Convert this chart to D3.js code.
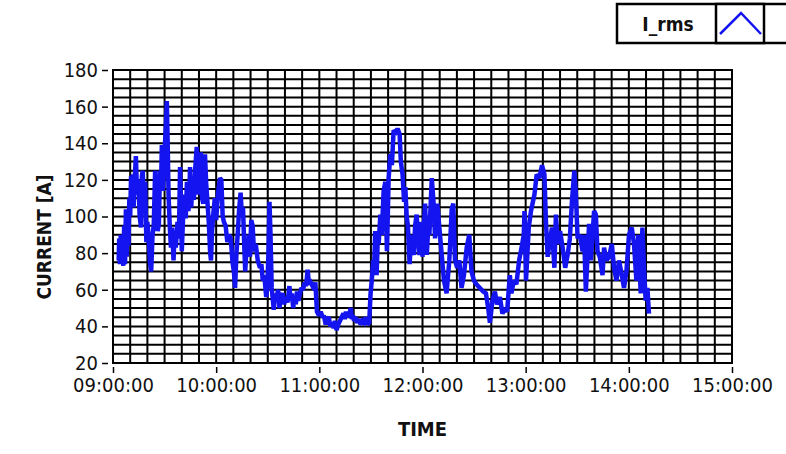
<!DOCTYPE html>
<html>
<head>
<meta charset="utf-8">
<script src="https://cdn.jsdelivr.net/npm/d3@7"></script>
<style>
body { margin: 0; background: #fff; }
text { font-family: "DejaVu Sans Condensed", "DejaVu Sans", sans-serif; fill: #111; }
</style>
</head>
<body>
<svg id="chart" width="786" height="454"></svg>
<script>
// minutes after 09:00:00 and the rms current read at that moment
var minutes = [3.3,3.6,4.0,4.5,5.0,5.5,6.0,6.5,7.0,7.5,8.0,8.5,9.0,9.5,10.0,10.5,11.0,11.5,12.0,12.5,
	13.3,14.0,14.8,15.5,16.3,16.8,17.3,18.0,18.7,19.4,20.0,20.7,21.5,22.2,23.0,23.7,24.5,25.3,26.0,26.7,
	27.3,28.0,28.4,29.0,29.7,30.2,30.8,31.3,31.8,32.3,33.0,33.7,34.4,35.2,35.8,36.5,37.5,38.3,39.0,39.6,
	40.0,40.8,41.5,42.3,43.0,43.8,44.3,44.8,45.5,46.2,47.0,47.8,48.7,49.3,50.2,51.0,51.8,52.5,53.0,53.5,
	54.2,55.0,55.8,56.5,57.0,57.6,58.3,59.2,60.0,61.0,62.2,63.0,63.8,64.5,65.5,66.5,67.5,68.5,69.5,70.3,
	71.0,71.8,72.5,73.3,74.2,75.0,75.6,76.3,76.9,77.5,78.3,79.0,79.7,80.4,81.2,82.0,83.0,84.2,85.5,86.3,
	87.1,88.0,89.1,89.8,90.4,91.0,91.6,92.3,93.5,94.3,95.0,96.0,96.8,97.5,98.7,99.6,100.5,101.5,102.6,103.3,
	104.0,104.8,105.5,106.3,107.0,107.8,108.5,109.5,110.5,111.5,112.3,113.2,114.0,115.0,116.0,117.1,117.7,118.2,118.6,119.2,
	119.8,120.8,121.9,122.6,123.7,124.5,125.5,126.4,127.5,128.3,129.0,130.0,131.0,132.0,133.0,134.0,134.8,135.5,136.6,137.5,
	138.3,138.9,139.6,140.2,141.0,142.0,143.0,144.0,145.0,146.0,147.0,148.0,149.0,149.8,150.5,151.3,151.8,152.5,153.3,154.0,
	154.5,155.5,156.3,157.4,158.4,159.3,159.8,160.3,161.3,162.2,163.2,164.5,165.5,166.7,167.4,168.4,169.3,170.0,170.8,171.5,
	172.5,173.5,174.1,175.0,175.7,176.6,177.4,178.2,178.8,179.5,180.0,181.5,182.5,183.5,184.0,185.4,186.4,187.3,188.6,189.8,
	191.0,192.5,194.0,195.6,197.0,197.9,198.9,200.2,201.4,202.7,204.1,205.7,207.2,208.5,209.9,211.4,213.4,215.3,216.9,218.2,
	219.2,220.7,222.1,223.4,225.0,226.5,227.9,229.2,230.8,231.7,233.1,234.6,236.2,237.6,238.9,239.3,240.2,241.8,243.1,245.1,
	246.4,248.0,249.5,250.9,251.8,252.8,253.8,255.3,256.7,257.6,258.6,260.0,261.5,263.0,264.4,265.7,266.9,268.3,269.2,270.2,
	271.5,273.1,274.0,275.0,276.0,276.9,277.9,278.9,279.8,280.8,281.8,283.1,284.7,285.6,287.0,288.5,290.1,291.4,292.8,294.3,
	295.9,297.2,298.6,300.1,301.7,303.0,304.4,305.5,306.9,307.9,308.8,309.8,310.8,311.7];
var current = [76,88,74,90,75,86,73,95,74,104,78,100,84,110,100,122,112,123,105,118,
	133,112,120,100,94,122,125,104,119,86,97,89,75,70,90,95,125,108,92,96,
	125,118,139,114,125,139,150,163,140,112,95,83,94,76,90,83,97,88,127,102,
	81,100,112,99,119,103,107,127,105,119,109,126,138,112,120,135,110,107,120,134,
	118,107,95,80,76,92,101,110,98,112,121,120,100,97,95,86,90,88,75,70,
	61,80,90,103,113,100,105,85,70,80,83,90,78,98,95,81,85,76,72,74,
	65,68,56,62,80,108,90,61,49,58,55,60,50,56,58,52,56,53,62,54,
	58,50,56,52,59,54,57,61,60,64,62,71,63,64,62,60,64,55,48,47,
	46,48,45,46,41,44,45,40,42,39,43,38,41,43,45,47,44,48,45,47,
	50,44,46,43,45,42,44,41,43,42,45,41,42,58,65,76,70,92,68,88,
	85,101,90,114,119,81,100,121,134,128,147,146,148,145,130,123,108,116,100,95,
	74,90,83,79,95,101,88,79,90,97,78,107,79,97,90,121,108,88,107,94,
	81,65,58,76,104,107,76,72,76,61,68,83,90,70,65,63,61,59,58,50,
	42,54,59,52,56,47,50,48,68,58,65,63,76,83,90,103,65,94,103,112,
	123,121,128,123,97,78,85,94,72,101,85,92,83,72,79,88,108,125,112,88,
	90,81,90,59,79,96,76,90,103,101,81,78,68,83,76,78,85,72,65,76,
	68,61,70,90,94,85,65,90,58,94,72,54,61,47];

var yTicks = [20,40,60,80,100,120,140,160,180];
var xTickLabels = ['09:00:00','10:00:00','11:00:00','12:00:00','13:00:00','14:00:00','15:00:00'];
var seriesName = 'I_rms';
var yTitle = 'CURRENT [A]';
var xTitle = 'TIME';

( function() {
	var svg = d3.select('#chart');
	var pl = 113, pr = 732, pt = 70, pb = 363;
	var start = new Date(2000,0,1,9,0,0);
	var end = new Date(2000,0,1,15,0,0);
	var toDate = function(m) { return new Date(start.getTime() + m*60000); };

	var x = d3.scaleTime().domain([start,end]).range([pl,pr]);
	var y = d3.scaleLinear().domain([20,180]).range([pb,pt]);

	// grid: every 10 minutes and every 5 A
	var g = svg.append('g');
	var vlines = d3.timeMinute.every(10).range(start, d3.timeMinute.offset(end,1));
	g.selectAll('line.v').data(vlines).enter().append('line')
		.attr('x1',function(d){ return x(d); }).attr('x2',function(d){ return x(d); })
		.attr('y1',pt).attr('y2',pb)
		.attr('stroke','#000').attr('stroke-width',2);
	g.selectAll('line.h').data(d3.range(20,181,5)).enter().append('line')
		.attr('x1',pl).attr('x2',pr)
		.attr('y1',function(d){ return y(d); }).attr('y2',function(d){ return y(d); })
		.attr('stroke','#000').attr('stroke-width',2);
	g.append('rect').attr('x',pl).attr('y',pt).attr('width',pr-pl).attr('height',pb-pt)
		.attr('fill','none').attr('stroke','#000').attr('stroke-width',2);

	// axes
	var yAxis = d3.axisLeft(y).tickValues(yTicks).tickSize(6).tickPadding(4);
	var ya = svg.append('g').attr('transform','translate('+(pl-5)+',0)').call(yAxis);
	ya.select('.domain').remove();
	ya.selectAll('line').attr('stroke','#000').attr('stroke-width',1.5);
	ya.selectAll('text').style('font-size','20px').style('font-family','"DejaVu Sans Condensed", sans-serif').attr('fill','#111');

	var hours = d3.timeHour.every(1).range(start, d3.timeHour.offset(end,1));
	var xAxis = d3.axisBottom(x).tickValues(hours).tickSize(6).tickPadding(5)
		.tickFormat(function(d,i){ return xTickLabels[i]; });
	var xa = svg.append('g').attr('transform','translate(0,'+(pb+4)+')').call(xAxis);
	xa.select('.domain').remove();
	xa.selectAll('line').attr('stroke','#000').attr('stroke-width',1.5);
	xa.selectAll('text').style('font-size','20px').style('font-family','"DejaVu Sans Condensed", sans-serif').attr('fill','#111');

	svg.append('text').attr('x',(pl+pr)/2).attr('y',436).attr('text-anchor','middle')
		.style('font-size','20px').style('font-weight','bold').text(xTitle);
	svg.append('text').attr('transform','translate(51,237) rotate(-90)').attr('text-anchor','middle')
		.style('font-size','19px').style('font-weight','bold').text(yTitle);

	// series
	var line = d3.line().x(function(d){ return x(toDate(d[0])); }).y(function(d){ return y(d[1]); });
	var pts = minutes.map(function(m,i){ return [m,current[i]]; });
	svg.append('path').attr('d',line(pts)).attr('fill','none')
		.attr('stroke','#1414f0').attr('stroke-width',4.5).attr('stroke-linejoin','miter').attr('stroke-miterlimit',2);

	// legend
	var lg = svg.append('g');
	lg.append('rect').attr('x',617).attr('y',4).attr('width',175).attr('height',39)
		.attr('fill','#fff').attr('stroke','#000').attr('stroke-width',2.5);
	lg.append('rect').attr('x',716).attr('y',4).attr('width',48).attr('height',39)
		.attr('fill','#fff').attr('stroke','#000').attr('stroke-width',2.5);
	lg.append('text').attr('x',668).attr('y',31).attr('text-anchor','middle')
		.style('font-size','19px').style('font-weight','bold').text(seriesName);
	lg.append('path').attr('d','M720,34 L741,13 L761,34').attr('fill','none')
		.attr('stroke','#1414f0').attr('stroke-width',2.5);
} ) () ;
</script>
</body>
</html>
